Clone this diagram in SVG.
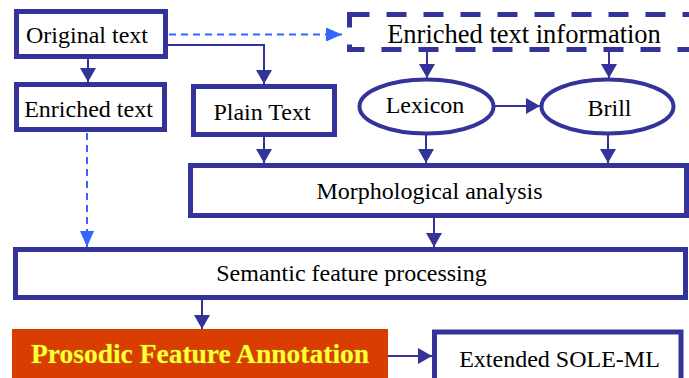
<svg xmlns="http://www.w3.org/2000/svg" width="689" height="378" viewBox="0 0 689 378">
<style>
.box{fill:#fff;stroke:#333399;stroke-width:5}
.ell{fill:#fff;stroke:#333399;stroke-width:4}
.t{font-family:"Liberation Serif","Times New Roman",serif;font-size:24px;fill:#000;text-anchor:middle}
.ln{fill:none;stroke:#333399;stroke-width:2;marker-end:url(#ah)}
.dl{fill:none;stroke:#3366FF;stroke-width:2;stroke-dasharray:7 5;marker-end:url(#bh)}
</style>
<defs>
<marker id="ah" markerUnits="userSpaceOnUse" markerWidth="14" markerHeight="16" refX="14" refY="8" orient="auto">
<path d="M0,0 L14,8 L0,16 z" fill="#333399"/>
</marker>
<marker id="bh" markerUnits="userSpaceOnUse" markerWidth="16" markerHeight="16" refX="16" refY="8" orient="auto">
<path d="M0,1 L16,8 L0,15 z" fill="#3366FF"/>
</marker>
</defs>
<rect width="689" height="378" fill="#fff"/>
<g id="connectors">
<path class="ln" d="M88,59 V82"/>
<path class="ln" d="M168,45 H264 V84"/>
<path class="dl" d="M169,34.5 H342"/>
<path class="dl" d="M87,133 V247"/>
<path class="ln" d="M264,137 V163"/>
<path class="ln" d="M427,52 V78"/>
<path class="ln" d="M609,52 V78"/>
<path class="ln" d="M495,106 H540"/>
<path class="ln" d="M426,135 V163"/>
<path class="ln" d="M608,135 V163"/>
<path class="ln" d="M434,218 V247"/>
<path class="ln" d="M202,300 V329"/>
<path class="ln" d="M388,356 H432"/>
</g>
<g id="original">
<rect class="box" x="16.5" y="11.5" width="149" height="45"/>
<text class="t" x="87" y="43">Original text</text>
</g>
<g id="enriched">
<rect class="box" x="16.5" y="84.5" width="148" height="45"/>
<text class="t" x="88.5" y="117">Enriched text</text>
</g>
<g id="plain">
<rect class="box" x="193.5" y="86.5" width="141" height="48"/>
<text class="t" x="262" y="120">Plain Text</text>
</g>
<g id="enrichedinfo">
<rect x="349.5" y="14.5" width="360" height="35" fill="#fff" stroke="#333399" stroke-width="5" stroke-dasharray="20 17"/>
<text class="t" x="524" y="43" style="font-size:26.5px">Enriched text information</text>
</g>
<g id="lexicon">
<ellipse class="ell" cx="426.5" cy="106.5" rx="67" ry="27"/>
<text class="t" x="425" y="113">Lexicon</text>
</g>
<g id="brill">
<ellipse class="ell" cx="607.5" cy="106.5" rx="66" ry="27"/>
<text class="t" x="609.5" y="116">Brill</text>
</g>
<g id="morph">
<rect class="box" x="190.5" y="165.5" width="496" height="50"/>
<text class="t" x="429.5" y="199">Morphological analysis</text>
</g>
<g id="semantic">
<rect class="box" x="15.5" y="249.5" width="670" height="48"/>
<text class="t" x="351.5" y="281">Semantic feature processing</text>
</g>
<g id="prosodic">
<rect x="12" y="329" width="376" height="52" fill="#D93E00"/>
<text x="200" y="363" style="font-family:'Liberation Serif','Times New Roman',serif;font-size:27.5px;font-weight:bold;fill:#FFFF33;text-anchor:middle;stroke:#B86A10;stroke-width:1.2;paint-order:stroke">Prosodic Feature Annotation</text>
</g>
<g id="extended">
<rect class="box" x="434.5" y="332" width="246.5" height="52"/>
<text class="t" x="559.5" y="367">Extended SOLE-ML</text>
</g>
</svg>
